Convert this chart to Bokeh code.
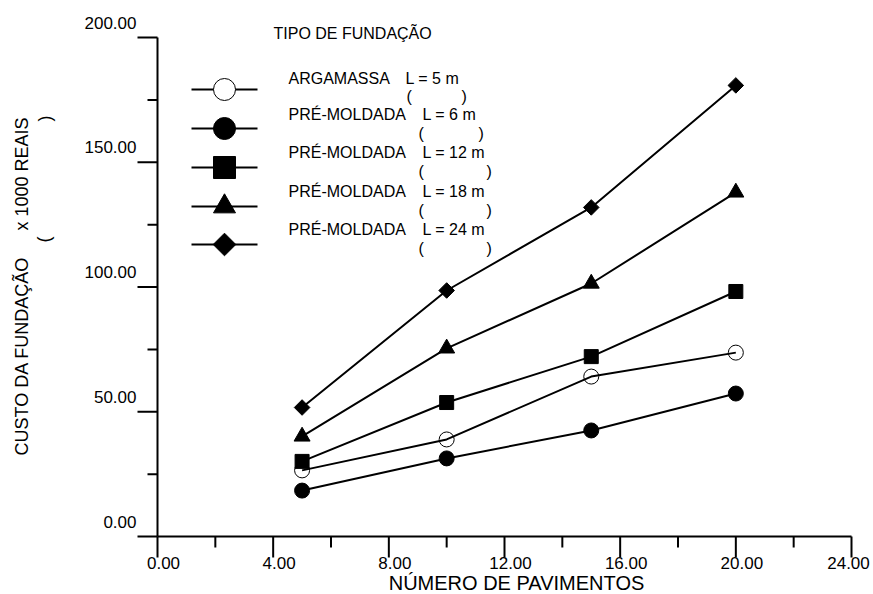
import numpy as np
from bokeh.plotting import figure
from bokeh.models import Range1d, Label, LabelSet, ColumnDataSource
from bokeh.core.properties import value
from bokeh.embed import file_html
from bokeh.resources import INLINE

# ---------------- data ----------------
pavimentos = [5, 10, 15, 20]
argamassa_5m = [26.5, 38.9, 64.1, 73.7]
premoldada_6m = [18.4, 31.3, 42.5, 57.3]
premoldada_12m = [30.1, 53.7, 72.1, 98.2]
premoldada_18m = [40.1, 75.4, 101.4, 137.9]
premoldada_24m = [51.7, 98.6, 131.9, 180.8]

series_names = ["ARGAMASSA", "PRÉ-MOLDADA", "PRÉ-MOLDADA", "PRÉ-MOLDADA", "PRÉ-MOLDADA"]
series_lengths = ["L = 5 m", "L = 6 m", "L = 12 m", "L = 18 m", "L = 24 m"]
series_values = [argamassa_5m, premoldada_6m, premoldada_12m, premoldada_18m, premoldada_24m]

x_ticks = [0, 4, 8, 12, 16, 20, 24]
x_minor_ticks = [2, 6, 10, 14, 18, 22]
y_ticks = [0, 50, 100, 150, 200]
y_minor_ticks = [25, 75, 125, 175]

legend_title = "TIPO DE FUNDAÇÃO"
x_title = "NÚMERO DE PAVIMENTOS"
y_title_a = "CUSTO DA FUNDAÇÃO"
y_title_b = "x 1000 REAIS"

FONT = "Arial"

# ---------------- layout (pixel geometry of the axes box) ----------------
W, H = 873, 594
AX_LEFT, AX_RIGHT, AX_TOP, AX_BOTTOM = 157, 851, 37, 536
x_min, x_max = 0, 24
y_min, y_max = 0, 200
pxu = (AX_RIGHT - AX_LEFT) / (x_max - x_min)
pyu = (AX_BOTTOM - AX_TOP) / (y_max - y_min)


def dx(px):
    return x_min + (px - AX_LEFT) / pxu


def dy(py):
    return y_min + (AX_BOTTOM - py) / pyu


p = figure(width=W, height=H, output_backend="svg", toolbar_location=None,
           x_range=Range1d(dx(0), dx(W)), y_range=Range1d(dy(H), dy(0)),
           x_axis_type=None, y_axis_type=None, min_border=0)
p.outline_line_color = None
p.grid.visible = False
p.background_fill_color = "white"
p.border_fill_color = "white"

BLACK = "black"

# ---------------- axes (drawn on the data scales) ----------------
p.segment(x0=[x_min], y0=[y_min], x1=[x_max], y1=[y_min], line_color=BLACK, line_width=2)
p.segment(x0=[x_min], y0=[y_min], x1=[x_min], y1=[y_max], line_color=BLACK, line_width=2)
# x ticks (downwards)
p.segment(x0=x_ticks, y0=[y_min] * len(x_ticks), x1=x_ticks,
          y1=[y_min - 21 / pyu] * len(x_ticks), line_color=BLACK, line_width=2)
p.segment(x0=x_minor_ticks, y0=[y_min] * len(x_minor_ticks), x1=x_minor_ticks,
          y1=[y_min - 11 / pyu] * len(x_minor_ticks), line_color=BLACK, line_width=2)
# y ticks (leftwards)
p.segment(x0=[x_min] * len(y_ticks), y0=y_ticks, x1=[x_min - 20 / pxu] * len(y_ticks),
          y1=y_ticks, line_color=BLACK, line_width=2)
p.segment(x0=[x_min] * len(y_minor_ticks), y0=y_minor_ticks,
          x1=[x_min - 10 / pxu] * len(y_minor_ticks), y1=y_minor_ticks,
          line_color=BLACK, line_width=2)

txt = dict(text_font=FONT, text_color=BLACK)
vtxt = dict(text_font=value(FONT), text_color=BLACK)

# tick labels (x labels sit a little right of their ticks; keep the last one inside)
x_lab_pos = [min(t + 6 / pxu, dx(W - 25)) for t in x_ticks]
xsrc = ColumnDataSource(dict(x=x_lab_pos, y=[y_min] * len(x_ticks),
                             t=[f"{v:.2f}" for v in x_ticks]))
p.add_layout(LabelSet(x="x", y="y", text="t", source=xsrc, y_offset=-26,
                      text_align="center", text_baseline="middle",
                      text_font_size="17px", **vtxt))
ysrc = ColumnDataSource(dict(x=[x_min] * len(y_ticks), y=y_ticks,
                             t=[f"{v:.2f}" for v in y_ticks]))
p.add_layout(LabelSet(x="x", y="y", text="t", source=ysrc, x_offset=-21, y_offset=15,
                      text_align="right", text_baseline="middle",
                      text_font_size="17px", **vtxt))

# axis titles
p.add_layout(Label(x=dx(516), y=dy(582), text=x_title, text_align="center",
                   text_baseline="middle", text_font_size="20px", **txt))
p.add_layout(Label(x=dx(21), y=dy(455), text=y_title_a, angle=90, angle_units="deg",
                   text_align="left", text_baseline="middle", text_font_size="18px", **txt))
p.add_layout(Label(x=dx(21), y=dy(230), text=y_title_b, angle=90, angle_units="deg",
                   text_align="left", text_baseline="middle", text_font_size="18px", **txt))
p.add_layout(Label(x=dx(43), y=dy(239), text="(", angle=90, angle_units="deg",
                   text_align="center", text_baseline="middle", text_font_size="18px", **txt))
p.add_layout(Label(x=dx(44), y=dy(118), text=")", angle=90, angle_units="deg",
                   text_align="center", text_baseline="middle", text_font_size="18px", **txt))

# ---------------- series ----------------
styles = [
    dict(marker="circle", size=15, fill_color=None, line_width=1, angle=0),
    dict(marker="circle", size=15, fill_color=BLACK, line_width=1, angle=0),
    dict(marker="square", size=14, fill_color=BLACK, line_width=1, angle=0),
    dict(marker="triangle", size=16, fill_color=BLACK, line_width=1, angle=0),
    dict(marker="square", size=11, fill_color=BLACK, line_width=1, angle=np.pi / 4),
]
legend_sizes = [22, 22, 22, 22, 16]

for vals, st in zip(series_values, styles):
    p.line(pavimentos, vals, line_color=BLACK, line_width=2)
    p.scatter(pavimentos, vals, marker=st["marker"], size=st["size"],
              fill_color=st["fill_color"], line_color=BLACK,
              line_width=st["line_width"], angle=st["angle"])

# ---------------- legend ----------------
marker_rows = [89, 128, 167, 206, 244]
text_rows = [78, 114, 152, 191, 229]
paren_rows = [96, 133, 171, 210, 248]
len_x = [405, 422, 422, 422, 422]
open_x = [406, 418, 418, 418, 418]
close_x = [461, 478, 486, 486, 486]

for i, st in enumerate(styles):
    yy = dy(marker_rows[i])
    p.line([dx(191), dx(257)], [yy, yy], line_color=BLACK, line_width=2)
    fc = "white" if st["fill_color"] is None else BLACK
    p.scatter([dx(224)], [yy], marker=st["marker"], size=legend_sizes[i],
              fill_color=fc, line_color=BLACK, line_width=1, angle=st["angle"])

p.add_layout(Label(x=dx(273), y=dy(33), text=legend_title, text_align="left",
                   text_baseline="middle", text_font_size="16px", **txt))

leg_src = ColumnDataSource(dict(
    nx=[dx(288)] * 5, ny=[dy(v) for v in text_rows], name=series_names,
    lx=[dx(v) for v in len_x], ltxt=series_lengths,
    ox=[dx(v) for v in open_x], py=[dy(v) for v in paren_rows], o=["("] * 5,
    cx=[dx(v) for v in close_x], c=[")"] * 5,
))
common = dict(source=leg_src, text_baseline="middle", text_font_size="16px",
              text_align="left", **vtxt)
p.add_layout(LabelSet(x="nx", y="ny", text="name", **common))
p.add_layout(LabelSet(x="lx", y="ny", text="ltxt", **common))
p.add_layout(LabelSet(x="ox", y="py", text="o", **common))
p.add_layout(LabelSet(x="cx", y="py", text="c", **common))

open("out.html", "w").write(file_html(p, INLINE))
